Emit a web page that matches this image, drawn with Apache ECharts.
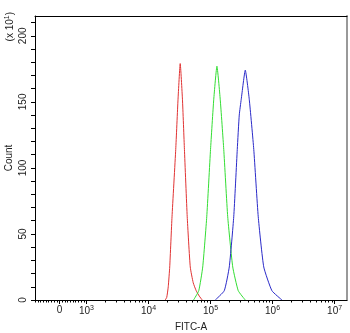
<!DOCTYPE html>
<html>
<head>
<meta charset="utf-8" />
<title>FITC-A histogram</title>
<script src="https://cdn.jsdelivr.net/npm/echarts@6/dist/echarts.min.js"></script>
<style>
  html, body { margin: 0; padding: 0; background: #fff; }
  #main { width: 350px; height: 333px; }
</style>
</head>
<body>
<div id="main"></div>
<script>
// x values are in display units: log10 of FITC-A (0 sits in the linear part)
var redX   = [4.269, 4.294, 4.318, 4.342, 4.379, 4.439, 4.476, 4.511, 4.547, 4.579, 4.624, 4.673, 4.721, 4.769, 4.818, 4.866];
var redY   = [0, 2, 10, 25, 63, 114, 152, 179, 152, 114, 63, 25, 13, 7, 3, 0];
var greenX = [4.726, 4.810, 4.874, 4.939, 5.000, 5.052, 5.103, 5.156, 5.213, 5.277, 5.358, 5.447, 5.560];
var greenY = [0, 7, 25, 63, 114, 152, 177, 152, 114, 63, 25, 7, 0];
var blueX  = [5.076, 5.221, 5.302, 5.374, 5.431, 5.463, 5.495, 5.560, 5.624, 5.697, 5.769, 5.858, 5.990, 6.152];
var blueY  = [0, 7, 25, 63, 114, 140, 152, 174, 152, 114, 63, 25, 7, 0];

var xTickPos  = [2.565, 3, 4, 5, 6, 7];
var xTickText = ['0', '10|3', '10|4', '10|5', '10|6', '10|7'];
var yTicks  = [0, 10, 20, 30, 40, 50, 60, 70, 80, 90, 100, 110, 120, 130, 140, 150, 160, 170, 180, 190, 200, 210];
var yLabels = [0, 50, 100, 150, 200];

// minor ticks: linear steps of 100 around 0, log steps above 10^3
var minorTicks = [];
for (var k = -9; k <= 9; k++) {
  if (k !== 0) minorTicks.push(2.565 + k * 0.0435);
}
for (var d = 3; d < 7; d++) {
  for (var m = 2; m <= 9; m++) minorTicks.push(d + Math.log10(m));
}

function pairs(xs, ys) {
  return xs.map(function (x, i) { return [x, ys[i]]; });
}

function xLabel(v) {
  var best = 0;
  for (var i = 1; i < xTickPos.length; i++) {
    if (Math.abs(xTickPos[i] - v) < Math.abs(xTickPos[best] - v)) best = i;
  }
  var t = xTickText[best].split('|');
  return t.length > 1 ? '{b|' + t[0] + '}{s|' + t[1] + '}' : '{b|' + t[0] + '}';
}

var txt = '#222';
var font = 'Liberation Sans, Arial, sans-serif';

var chart = echarts.init(document.getElementById('main'));
chart.setOption({
  animation: false,
  grid: { left: 35, right: 3, top: 16, bottom: 33, outerBoundsMode: 'none', containLabel: false },
  xAxis: [{
    type: 'value', min: 2.17, max: 7.2, position: 'bottom',
    splitLine: { show: false },
    axisLine: { lineStyle: { color: '#000', width: 1 } },
    axisTick: { customValues: xTickPos, length: 4, lineStyle: { color: '#000' } },
    axisLabel: {
      customValues: xTickPos, margin: 5, color: txt, fontFamily: font, fontSize: 10,
      formatter: xLabel,
      rich: {
        b: { fontSize: 10, color: txt, fontFamily: font },
        s: { fontSize: 7, color: txt, fontFamily: font, padding: [0, 0, 6, 0] }
      }
    },
    name: 'FITC-A', nameLocation: 'middle', nameGap: 22, nameMoveOverlap: false,
    nameTextStyle: { color: txt, fontFamily: font, fontSize: 10 }
  }, {
    type: 'value', min: 2.17, max: 7.2, position: 'bottom',
    splitLine: { show: false },
    axisLine: { show: false },
    axisTick: { customValues: minorTicks, length: 2.5, lineStyle: { color: '#000' } },
    axisLabel: { show: false }
  }, {
    type: 'value', min: 2.17, max: 7.2, position: 'top',
    splitLine: { show: false },
    axisLine: { lineStyle: { color: '#000', width: 1 } },
    axisTick: { show: false },
    axisLabel: { show: false }
  }],
  yAxis: [{
    type: 'value', min: 0, max: 215,
    splitLine: { show: false },
    axisLine: { show: true, lineStyle: { color: '#000', width: 1 } },
    axisTick: { show: true, customValues: yTicks, length: 4, lineStyle: { color: '#000' } },
    axisLabel: {
      customValues: yLabels, rotate: 90, margin: 7,
      color: txt, fontFamily: font, fontSize: 10
    },
    name: 'Count', nameLocation: 'middle', nameGap: 21, nameMoveOverlap: false,
    nameTextStyle: { color: txt, fontFamily: font, fontSize: 10 }
  }, {
    type: 'value', min: 0, max: 215, position: 'right',
    splitLine: { show: false },
    axisLine: { show: true, lineStyle: { color: '#999', width: 2 } },
    axisTick: { show: false },
    axisLabel: { show: false }
  }],
  graphic: [{
    type: 'text', left: 4, top: 12,
    rotation: Math.PI / 2,
    style: {
      text: '(x 10{s|1})',
      fill: txt, font: '10px ' + font,
      rich: { s: { fontSize: 7, fill: txt, padding: [0, 0, 6, 0] } }
    }
  }],
  series: [
    { type: 'line', xAxisIndex: 0, data: pairs(redX, redY), showSymbol: false, smooth: 0.15, lineStyle: { color: '#e03333', width: 1 } },
    { type: 'line', xAxisIndex: 0, data: pairs(greenX, greenY), showSymbol: false, smooth: 0.15, lineStyle: { color: '#33dd33', width: 1 } },
    { type: 'line', xAxisIndex: 0, data: pairs(blueX, blueY), showSymbol: false, smooth: 0.15, lineStyle: { color: '#2a2ac8', width: 1 } }
  ]
});
window.onresize = function () { chart.resize(); };
</script>
</body>
</html>
